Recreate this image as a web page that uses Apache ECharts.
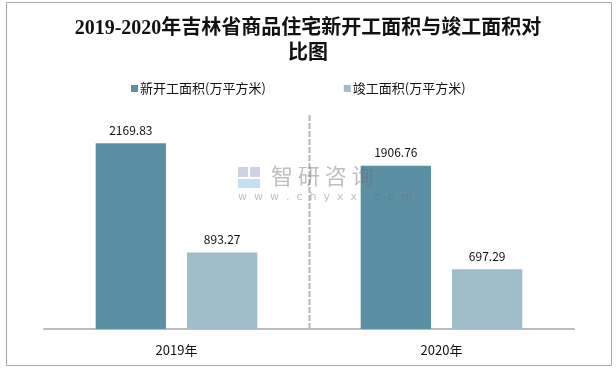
<!DOCTYPE html>
<html>
<head>
<meta charset="utf-8">
<script src="https://cdn.jsdelivr.net/npm/echarts@6/dist/echarts.min.js"></script>
<style>
html,body{margin:0;padding:0;background:#fff;}
#c{width:616px;height:369px;}
</style>
</head>
<body>
<div id="c"></div>
<script>
const categories = ['2019年', '2020年'];
const seriesNames = ['新开工面积(万平方米)', '竣工面积(万平方米)'];
const newStart = [2169.83, 1906.76];
const completed = [893.27, 697.29];
const titleText = '2019-2020年吉林省商品住宅新开工面积与竣工面积对\n比图';

const chart = echarts.init(document.getElementById('c'));
const cjk = '"Noto Sans CJK SC", "Noto Sans", sans-serif';
chart.setOption({
  animation: false,
  backgroundColor: '#fff',
  title: {
    text: titleText,
    left: 'center',
    top: 11,
    textStyle: {
      fontFamily: '"Liberation Serif", "Noto Sans CJK SC", serif',
      fontWeight: 'bold',
      fontSize: 20,
      lineHeight: 25,
      color: '#111'
    }
  },
  legend: {
    top: 77,
    left: 126,
    itemWidth: 7,
    itemHeight: 7,
    itemGap: 78,
    icon: 'rect',
    textStyle: { fontFamily: cjk, fontSize: 13, color: '#111', padding: [0, 0, 0, -3] },
    data: seriesNames
  },
  grid: { left: 44, right: 42, top: 115, bottom: 40 },
  xAxis: {
    type: 'category',
    data: categories,
    axisLine: { lineStyle: { color: '#bdbdbd', width: 2 } },
    axisTick: { show: false },
    axisLabel: { fontFamily: cjk, fontSize: 13, color: '#111', margin: 15 }
  },
  yAxis: {
    type: 'value',
    min: 0,
    max: 2500,
    show: false
  },
  series: [
    {
      name: seriesNames[0],
      type: 'bar',
      data: newStart,
      barGap: '30%',
      barCategoryGap: '39%',
      itemStyle: { color: '#5b8fa4' },
      label: { show: true, position: 'top', distance: 7, fontFamily: cjk, fontSize: 12, color: '#111' }
    },
    {
      name: seriesNames[1],
      type: 'bar',
      data: completed,
      itemStyle: { color: '#9fbdca' },
      label: { show: true, position: 'top', distance: 7, fontFamily: cjk, fontSize: 12, color: '#111' }
    }
  ],
  graphic: [
    {
      type: 'rect',
      shape: { x: 6.5, y: 2.5, width: 605, height: 363 },
      style: { fill: 'none', stroke: '#a8a8a8', lineWidth: 1 },
      silent: true
    },
    {
      type: 'line',
      shape: { x1: 309.5, y1: 115, x2: 309.5, y2: 329 },
      style: { stroke: '#b5b5b5', lineWidth: 2, lineDash: [6, 2] },
      silent: true
    },
    { type: 'rect', z: 100, silent: true, shape: { x: 238, y: 167, width: 10, height: 10 }, style: { fill: 'rgba(160,175,205,0.55)' } },
    { type: 'rect', z: 100, silent: true, shape: { x: 250, y: 167, width: 10, height: 10 }, style: { fill: 'rgba(160,175,205,0.55)' } },
    { type: 'rect', z: 100, silent: true, shape: { x: 238, y: 179, width: 22, height: 9 }, style: { fill: 'rgba(150,195,230,0.55)' } },
    { type: 'text', z: 100, silent: true, x: 271, y: 165, style: { text: '智 研 咨 询', font: '22px "Noto Sans CJK SC"', fill: 'rgba(110,110,110,0.45)' } },
    { type: 'text', z: 100, silent: true, x: 238, y: 192, style: { text: 'w  w  w  .  c  h  y  x  x  .  c  o  m', font: '11px "DejaVu Sans"', fill: 'rgba(110,110,110,0.45)' } }
  ]
});
</script>
</body>
</html>
